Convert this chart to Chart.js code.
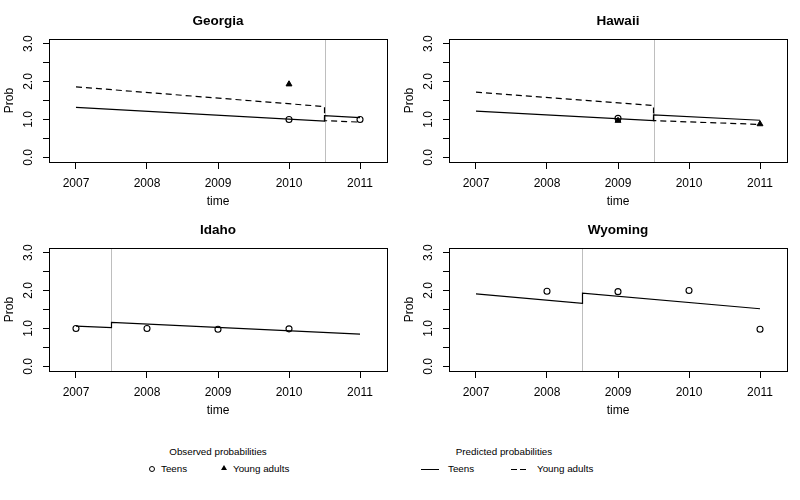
<!DOCTYPE html>
<html>
<head>
<meta charset="utf-8">
<script src="https://cdn.jsdelivr.net/npm/chart.js@4/dist/chart.umd.min.js"></script>
<style>
  html, body { margin: 0; padding: 0; background: #fff; }
  #wrap { position: relative; width: 800px; height: 500px; overflow: hidden; font-family: "Liberation Sans", Arial, Helvetica, sans-serif; color: #000; }
  canvas.panel { position: absolute; }
  .lg { position: absolute; font-size: 9.8px; line-height: 12px; white-space: nowrap; }
  .ctr { transform: translateX(-50%); }
</style>
</head>
<body>
<div id="wrap">
  <canvas class="panel" id="c0" width="400" height="210" style="left:0;top:0"></canvas>
  <canvas class="panel" id="c1" width="400" height="210" style="left:400px;top:0"></canvas>
  <canvas class="panel" id="c2" width="400" height="210" style="left:0;top:209px"></canvas>
  <canvas class="panel" id="c3" width="400" height="210" style="left:400px;top:209px"></canvas>

  <div class="lg ctr" style="left:218px;top:446px">Observed probabilities</div>
  <div style="position:absolute;left:149px;top:466px;width:4px;height:4px;border:1px solid #000;border-radius:50%"></div>
  <div class="lg" style="left:161px;top:463px">Teens</div>
  <div style="position:absolute;left:221px;top:465px;width:0;height:0;border-left:3px solid transparent;border-right:3px solid transparent;border-bottom:5px solid #000"></div>
  <div class="lg" style="left:233px;top:463px">Young adults</div>

  <div class="lg ctr" style="left:504px;top:446px">Predicted probabilities</div>
  <div style="position:absolute;left:421px;top:469px;width:18px;height:0;border-top:1px solid #000"></div>
  <div class="lg" style="left:448px;top:463px">Teens</div>
  <div style="position:absolute;left:511px;top:469px;width:6px;height:0;border-top:1px solid #000"></div>
  <div style="position:absolute;left:520px;top:469px;width:6px;height:0;border-top:1px solid #000"></div>
  <div class="lg" style="left:537px;top:463px">Young adults</div>
</div>
<script>
// ---- data ----
const years = [2007, 2008, 2009, 2010, 2011];          // x tick labels
const yTicks = [0, 0.5, 1, 1.5, 2, 2.5, 3];             // y tick positions
const states = ['Georgia', 'Hawaii', 'Idaho', 'Wyoming'];
const breaks = [2010.5, 2009.5, 2007.5, 2008.5];        // grey vertical line per state

// predicted values at [2007, break (before), break (after), 2011]
const georgiaPredTeens = [1.32, 0.96, 1.10, 1.05];
const georgiaPredYoung = [1.86, 1.34, 0.97, 0.93];
const hawaiiPredTeens  = [1.22, 0.97, 1.12, 0.98];
const hawaiiPredYoung  = [1.72, 1.37, 0.97, 0.87];
const idahoPredTeens   = [1.06, 1.02, 1.16, 0.85];
const idahoPredYoung   = [];
const wyomingPredTeens = [1.91, 1.66, 1.93, 1.52];
const wyomingPredYoung = [];

// observed values
const georgiaObsTeensX = [2010, 2011];             const georgiaObsTeens = [1.00, 1.00];
const georgiaObsYoungX = [2010];                   const georgiaObsYoung = [1.93];
const hawaiiObsTeensX  = [2009];                   const hawaiiObsTeens  = [1.03];
const hawaiiObsYoungX  = [2009, 2011];             const hawaiiObsYoung  = [0.97, 0.88];
const idahoObsTeensX   = [2007, 2008, 2009, 2010]; const idahoObsTeens   = [1.00, 1.00, 0.98, 0.99];
const idahoObsYoungX   = [];                       const idahoObsYoung   = [];
const wyomingObsTeensX = [2008, 2009, 2010, 2011]; const wyomingObsTeens = [1.98, 1.97, 2.00, 0.98];
const wyomingObsYoungX = [];                       const wyomingObsYoung = [];

const predTeensAll = [georgiaPredTeens, hawaiiPredTeens, idahoPredTeens, wyomingPredTeens];
const predYoungAll = [georgiaPredYoung, hawaiiPredYoung, idahoPredYoung, wyomingPredYoung];
const obsTeensXAll = [georgiaObsTeensX, hawaiiObsTeensX, idahoObsTeensX, wyomingObsTeensX];
const obsTeensAll  = [georgiaObsTeens, hawaiiObsTeens, idahoObsTeens, wyomingObsTeens];
const obsYoungXAll = [georgiaObsYoungX, hawaiiObsYoungX, idahoObsYoungX, wyomingObsYoungX];
const obsYoungAll  = [georgiaObsYoung, hawaiiObsYoung, idahoObsYoung, wyomingObsYoung];

const FONT = '"Liberation Sans", Arial, Helvetica, sans-serif';

function predPoints(vals, brk) {
  const xs = [years[0], brk, brk, years[years.length - 1]];
  return vals.map((v, i) => ({ x: xs[i], y: v }));
}
function obsPoints(xs, ys) { return xs.map((x, i) => ({ x: x, y: ys[i] })); }

const boxPlugin = {
  id: 'rbox',
  beforeDatasetsDraw(chart, args, opts) {
    const { ctx, chartArea: a, scales } = chart;
    const px = Math.round(scales.x.getPixelForValue(opts.brk)) + 0.5;
    ctx.save();
    ctx.strokeStyle = '#bebebe';
    ctx.lineWidth = 1;
    ctx.beginPath(); ctx.moveTo(px, a.top); ctx.lineTo(px, a.bottom); ctx.stroke();
    ctx.restore();
  },
  afterDraw(chart) {
    const { ctx, chartArea: a } = chart;
    ctx.save();
    ctx.strokeStyle = '#000';
    ctx.lineWidth = 1;
    ctx.strokeRect(Math.round(a.left) + 0.5, Math.round(a.top) + 0.5,
                   Math.round(a.right - a.left), Math.round(a.bottom - a.top));
    ctx.restore();
  }
};

states.forEach((name, i) => {
  const brk = breaks[i];
  const datasets = [
    { label: 'Pred Teens', data: predPoints(predTeensAll[i], brk), showLine: true,
      borderColor: '#000', borderWidth: 1.2, pointRadius: 0, fill: false, tension: 0 },
  ];
  if (predYoungAll[i].length) {
    datasets.push({ label: 'Pred Young adults', data: predPoints(predYoungAll[i], brk), showLine: true,
      borderColor: '#000', borderWidth: 1.2, borderDash: [6, 4], pointRadius: 0, fill: false, tension: 0 });
  }
  datasets.push({ label: 'Obs Teens', data: obsPoints(obsTeensXAll[i], obsTeensAll[i]), showLine: false,
    pointStyle: 'circle', pointRadius: 3, borderColor: '#000', borderWidth: 1.1, backgroundColor: 'rgba(0,0,0,0)' });
  if (obsYoungAll[i].length) {
    datasets.push({ label: 'Obs Young adults', data: obsPoints(obsYoungXAll[i], obsYoungAll[i]), showLine: false,
      pointStyle: 'triangle', pointRadius: 3.4, borderColor: '#000', borderWidth: 1, backgroundColor: '#000' });
  }

  new Chart(document.getElementById('c' + i), {
    type: 'scatter',
    data: { datasets },
    plugins: [boxPlugin],
    options: {
      responsive: false,
      animation: false,
      devicePixelRatio: 1,
      layout: { padding: { left: 0, right: 13, top: 0, bottom: 0 } },
      plugins: {
        legend: { display: false },
        tooltip: { enabled: false },
        title: {
          display: true, text: name, fullSize: false, color: '#000',
          font: { family: FONT, size: 13.5, weight: 'bold' },
          padding: { top: 13, bottom: 9.8 }
        },
        rbox: { brk: brk }
      },
      scales: {
        x: {
          type: 'linear', position: 'bottom', min: 2006.62, max: 2011.38,
          afterFit(s) { s.height = 48; },
          afterBuildTicks(s) { s.ticks = years.map(v => ({ value: v })); },
          ticks: { color: '#000', font: { family: FONT, size: 12 }, padding: 7, autoSkip: false,
                   maxRotation: 0, minRotation: 0, callback: v => String(v) },
          grid: { display: true, drawOnChartArea: false, drawTicks: true, tickLength: 7, tickColor: '#000', tickWidth: 1 },
          border: { display: false },
          title: { display: true, text: 'time', color: '#000', font: { family: FONT, size: 12 }, padding: { top: 0, bottom: 1 } }
        },
        y: {
          type: 'linear', position: 'left', min: -0.12, max: 3.12,
          afterFit(s) { s.width = 49; },
          afterBuildTicks(s) { s.ticks = yTicks.map(v => ({ value: v })); },
          ticks: { color: '#000', font: { family: FONT, size: 12 }, padding: 6, autoSkip: false,
                   minRotation: 90, maxRotation: 90, crossAlign: 'center',
                   callback: v => Number.isInteger(v) ? v.toFixed(1) : '' },
          grid: { display: true, drawOnChartArea: false, drawTicks: true, tickLength: 6, tickColor: '#000', tickWidth: 1 },
          border: { display: false },
          title: { display: true, text: 'Prob', color: '#000', font: { family: FONT, size: 12 }, padding: { top: 2, bottom: 0 } }
        }
      }
    }
  });
});
</script>
</body>
</html>
